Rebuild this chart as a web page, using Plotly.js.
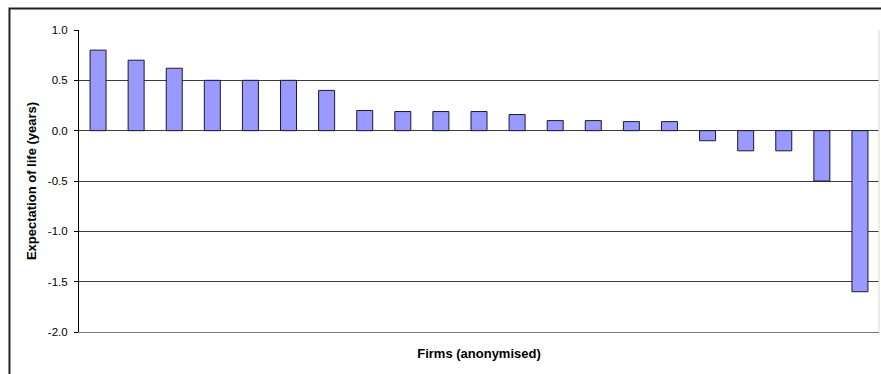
<!DOCTYPE html>
<html>
<head>
<meta charset="utf-8">
<script src="https://cdn.plot.ly/plotly-3.0.1.min.js"></script>
<style>
  html, body { margin: 0; padding: 0; background: #ffffff; }
  #chart { width: 881px; height: 374px; }
</style>
</head>
<body>
<div id="chart"></div>
<script>
// Firms are anonymised: one bar per firm, sorted from largest to smallest effect.
const firms = ['F1', 'F2', 'F3', 'F4', 'F5', 'F6', 'F7', 'F8', 'F9', 'F10', 'F11',
               'F12', 'F13', 'F14', 'F15', 'F16', 'F17', 'F18', 'F19', 'F20', 'F21'];

// Change in expectation of life, in years.
const lifeYears = [0.8, 0.7, 0.62, 0.5, 0.5, 0.5, 0.4, 0.2, 0.19, 0.19, 0.19,
                   0.16, 0.1, 0.1, 0.09, 0.09, -0.1, -0.2, -0.2, -0.5, -1.6];

const yTickValues = [-2.0, -1.5, -1.0, -0.5, 0.0, 0.5, 1.0];
const yTickLabels = ['-2.0', '-1.5', '-1.0', '-0.5', '0.0', '0.5', '1.0'];

const font = 'Liberation Sans, Arial, sans-serif';

const trace = {
  type: 'bar',
  x: firms,
  y: lifeYears,
  marker: { color: '#9999ff', line: { color: '#1a1a2e', width: 1 } },
  hoverinfo: 'x+y'
};

const layout = {
  width: 881,
  height: 374,
  margin: { l: 79, r: 2, t: 30, b: 42, pad: 0 },
  paper_bgcolor: '#ffffff',
  plot_bgcolor: '#ffffff',
  showlegend: false,
  bargap: 0.58,
  font: { family: font, size: 11, color: '#000000' },
  xaxis: {
    type: 'category',
    showticklabels: false,
    ticks: '',
    showgrid: false,
    zeroline: false,
    showline: true,
    linecolor: '#7a7a7a',
    linewidth: 1,
    fixedrange: true,
    title: {
      text: '<b>Firms (anonymised)</b>',
      font: { family: font, size: 13, color: '#000000' },
      standoff: 16
    },
    automargin: false
  },
  yaxis: {
    range: [-2, 1],
    tickvals: yTickValues,
    ticktext: yTickLabels,
    ticks: 'outside',
    ticklen: 4,
    tickwidth: 1,
    tickcolor: '#000000',
    ticklabelstandoff: 4,
    tickfont: { family: font, size: 11.5, color: '#000000' },
    showgrid: true,
    gridcolor: '#3c3c3c',
    gridwidth: 1,
    zeroline: false,
    showline: true,
    linecolor: '#000000',
    linewidth: 1,
    fixedrange: true,
    title: {
      text: '<b>Expectation of life (years)</b>',
      font: { family: font, size: 13, color: '#000000' },
      standoff: 8
    },
    automargin: false
  },
  shapes: [
    // outer chart frame
    {
      type: 'rect', xref: 'paper', yref: 'paper',
      x0: -0.0869, x1: 1.5, y0: -0.5, y1: 1.0712,
      line: { color: '#222222', width: 2 }, fillcolor: 'rgba(0,0,0,0)', layer: 'below'
    },
    // faint right edge of the plot area
    {
      type: 'line', xref: 'paper', yref: 'paper',
      x0: 1, x1: 1, y0: 0, y1: 1,
      line: { color: '#d8d8d8', width: 1 }
    }
  ]
};

Plotly.newPlot('chart', [trace], layout, { staticPlot: true, displayModeBar: false });
</script>
</body>
</html>
